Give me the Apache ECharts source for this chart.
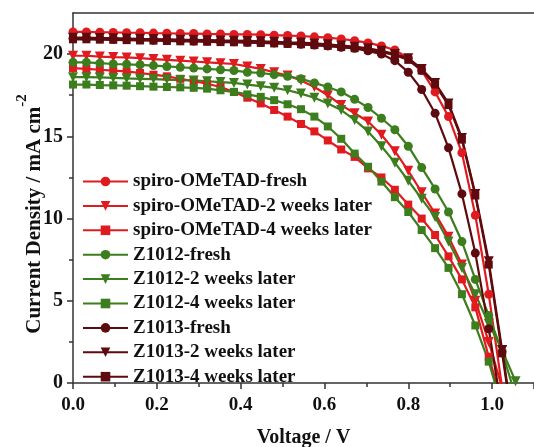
<!DOCTYPE html>
<html>
<head>
<meta charset="utf-8">
<script src="https://cdn.jsdelivr.net/npm/echarts@6/dist/echarts.min.js"></script>
<style>
  html, body { margin: 0; padding: 0; background: #ffffff; }
  #chart { width: 534px; height: 447px; }
</style>
</head>
<body>
<div id="chart"></div>
<script>
// Voltage sweep points (V), shared by all J-V curves
const voltage = [0.000, 0.032, 0.064, 0.096, 0.128, 0.160, 0.192, 0.224, 0.256, 0.288,
                 0.320, 0.352, 0.384, 0.416, 0.448, 0.480, 0.512, 0.544, 0.576, 0.608,
                 0.640, 0.672, 0.704, 0.736, 0.768, 0.800, 0.832, 0.864, 0.896, 0.928,
                 0.960, 0.992, 1.024, 1.056];

// Current density (mA cm^-2) for each device / ageing time
const spiroFresh = [21.35, 21.35, 21.33, 21.32, 21.30, 21.30, 21.28, 21.27, 21.25, 21.25,
                    21.23, 21.22, 21.20, 21.20, 21.18, 21.15, 21.13, 21.10, 21.05, 21.00,
                    20.92, 20.82, 20.68, 20.50, 20.25, 19.75, 19.00, 17.70, 16.20, 14.00,
                    10.20, 5.40, -0.30];
const spiro2w = [19.90, 19.90, 19.85, 19.82, 19.80, 19.75, 19.70, 19.65, 19.60, 19.55,
                 19.50, 19.45, 19.40, 19.25, 19.10, 18.90, 18.70, 18.40, 18.00, 17.50,
                 16.90, 16.40, 15.90, 15.10, 14.10, 12.90, 11.60, 10.30, 8.90, 7.20,
                 5.00, 2.50, -0.30];
const spiro4w = [19.15, 19.10, 19.05, 19.00, 18.95, 18.85, 18.75, 18.65, 18.50, 18.35,
                 18.20, 18.00, 17.70, 17.35, 17.00, 16.60, 16.20, 15.75, 15.30, 14.75,
                 14.20, 13.75, 13.05, 12.50, 11.75, 10.85, 10.00, 9.00, 7.70, 6.30,
                 4.60, 1.60, -1.20];
const z1012Fresh = [19.50, 19.50, 19.45, 19.40, 19.38, 19.35, 19.30, 19.25, 19.20, 19.15,
                    19.10, 19.05, 19.00, 18.90, 18.85, 18.75, 18.65, 18.50, 18.25, 18.00,
                    17.70, 17.25, 16.75, 16.10, 15.40, 14.40, 13.10, 11.80, 10.40, 8.60,
                    6.30, 4.10, 1.90, -0.80];
const z10122w = [18.60, 18.60, 18.58, 18.55, 18.52, 18.50, 18.48, 18.45, 18.42, 18.40,
                 18.35, 18.30, 18.25, 18.15, 18.05, 17.95, 17.80, 17.60, 17.35, 17.00,
                 16.60, 16.00, 15.30, 14.40, 13.40, 12.30, 11.20, 10.10, 8.60, 7.00,
                 5.40, 3.60, 2.00, 0.10];
const z10124w = [18.15, 18.15, 18.12, 18.10, 18.08, 18.05, 18.02, 18.00, 17.98, 17.95,
                 17.90, 17.80, 17.70, 17.55, 17.40, 17.20, 16.95, 16.65, 16.20, 15.60,
                 14.85, 13.95, 13.15, 12.25, 11.30, 10.40, 9.30, 8.20, 7.00, 5.40,
                 3.50, 1.30, -1.50];
const z1013Fresh = [20.95, 20.95, 20.93, 20.90, 20.90, 20.88, 20.85, 20.85, 20.82, 20.80,
                    20.80, 20.77, 20.75, 20.72, 20.70, 20.68, 20.65, 20.60, 20.55, 20.50,
                    20.42, 20.35, 20.20, 20.00, 19.60, 18.90, 17.85, 16.40, 14.30, 11.50,
                    7.90, 3.30, -1.80];
const z10132w = [21.00, 21.00, 20.98, 20.97, 20.95, 20.93, 20.92, 20.90, 20.88, 20.87,
                 20.85, 20.83, 20.82, 20.80, 20.78, 20.75, 20.72, 20.70, 20.65, 20.60,
                 20.52, 20.45, 20.35, 20.20, 20.00, 19.75, 19.10, 18.25, 17.00, 14.90,
                 11.50, 7.40, 2.00, -3.50];
const z10134w = [20.90, 20.90, 20.88, 20.87, 20.85, 20.83, 20.82, 20.80, 20.78, 20.77,
                 20.75, 20.73, 20.72, 20.70, 20.68, 20.65, 20.62, 20.60, 20.55, 20.50,
                 20.43, 20.36, 20.27, 20.12, 19.95, 19.65, 19.00, 18.15, 16.90, 14.80,
                 11.40, 7.20, 1.80, -3.70];

const seriesNames = [
  'spiro-OMeTAD-fresh', 'spiro-OMeTAD-2 weeks later', 'spiro-OMeTAD-4 weeks later',
  'Z1012-fresh', 'Z1012-2 weeks later', 'Z1012-4 weeks later',
  'Z1013-fresh', 'Z1013-2 weeks later', 'Z1013-4 weeks later'
];
const seriesValues = [spiroFresh, spiro2w, spiro4w, z1012Fresh, z10122w, z10124w,
                      z1013Fresh, z10132w, z10134w];

const xTicks = [0, 0.2, 0.4, 0.6, 0.8, 1.0];
const yTicks = [0, 5, 10, 15, 20];

// Styling per series: colour family and marker shape
const RED = '#E01B1F', GREEN = '#3C7D1D', DARK = '#5E0A0E';
const colors = [RED, RED, RED, GREEN, GREEN, GREEN, DARK, DARK, DARK];
const markers = [
  { symbol: 'circle', size: 9, rotate: 0 },
  { symbol: 'triangle', size: 10, rotate: 180 },
  { symbol: 'rect', size: 8, rotate: 0 }
];

const FONT = "'Liberation Serif', 'Times New Roman', serif";

const series = seriesNames.map((name, k) => {
  const m = markers[k % 3];
  return {
    name: name,
    type: 'line',
    data: seriesValues[k].map((j, i) => [voltage[i], j]),
    symbol: m.symbol,
    symbolSize: m.size,
    symbolRotate: m.rotate,
    showAllSymbol: true,
    clip: true,
    itemStyle: { color: colors[k] },
    lineStyle: { color: colors[k], width: 2.2 },
    emphasis: { disabled: true }
  };
});

const chart = echarts.init(document.getElementById('chart'), null, { renderer: 'canvas' });
chart.setOption({
  animation: false,
  backgroundColor: '#ffffff',
  grid: { left: 73, right: 0, top: 13, bottom: 64, containLabel: false, outerBoundsMode: 'none' },
  legend: {
    orient: 'vertical',
    left: 77,
    top: 167,
    itemWidth: 45,
    itemHeight: 12,
    itemGap: 5.4,
    data: seriesNames,
    textStyle: { fontFamily: FONT, fontWeight: 'bold', fontSize: 19, color: '#111', lineHeight: 19 },
    selectedMode: false
  },
  xAxis: [{
    type: 'value',
    min: 0,
    max: 1.1,
    interval: 0.2,
    name: 'Voltage / V',
    nameLocation: 'middle',
    nameGap: 45,
    nameTextStyle: { fontFamily: FONT, fontWeight: 'bold', fontSize: 20, color: '#111' },
    axisLine: { show: true, onZero: false, lineStyle: { color: '#333', width: 1.5 } },
    axisTick: { show: true, inside: false, length: 6, lineStyle: { color: '#333', width: 1.5 } },
    minorTick: { show: true, splitNumber: 2, length: 4, lineStyle: { color: '#333', width: 1.5 } },
    splitLine: { show: false },
    axisLabel: {
      margin: 13,
      fontFamily: FONT, fontWeight: 'bold', fontSize: 19, color: '#111',
      customValues: xTicks,
      formatter: v => v.toFixed(1)
    }
  }, {
    type: 'value',
    position: 'top',
    min: 0,
    max: 1.1,
    axisLine: { show: true, onZero: false, lineStyle: { color: '#333', width: 1.5 } },
    axisTick: { show: false },
    axisLabel: { show: false },
    splitLine: { show: false }
  }],
  yAxis: {
    type: 'value',
    min: 0,
    max: 22.5,
    interval: 5,
    name: 'Current Density / mA cm{sup|-2}',
    nameLocation: 'middle',
    nameRotate: 90,
    nameGap: 18,
    nameMoveOverlap: false,
    nameTextStyle: {
      fontFamily: FONT, fontWeight: 'bold', fontSize: 21, color: '#111',
      padding: [0, 32, 0, 0],
      rich: {
        sup: { fontFamily: FONT, fontWeight: 'bold', fontSize: 15, color: '#111', verticalAlign: 'top', lineHeight: 15 }
      },
      lineHeight: 40
    },
    axisLine: { show: true, onZero: false, lineStyle: { color: '#333', width: 1.5 } },
    axisTick: { show: true, inside: false, length: 6, customValues: yTicks, lineStyle: { color: '#333', width: 1.5 } },
    minorTick: { show: true, splitNumber: 2, length: 4, lineStyle: { color: '#333', width: 1.5 } },
    splitLine: { show: false },
    axisLabel: {
      margin: 10,
      customValues: yTicks,
      fontFamily: FONT, fontWeight: 'bold', fontSize: 20, color: '#111'
    }
  },
  series: series
});
</script>
</body>
</html>
